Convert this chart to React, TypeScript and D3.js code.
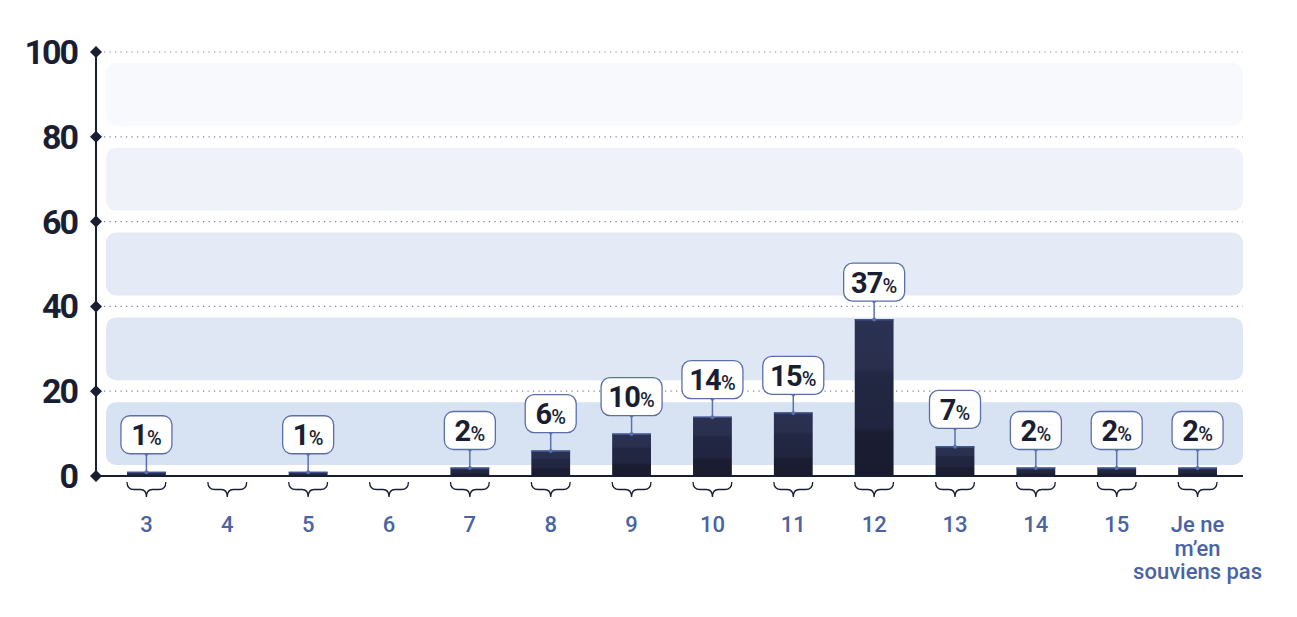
import React, { useRef, useEffect } from 'react';
import { select, scaleBand, scaleLinear } from 'd3';

const categories = ['3', '4', '5', '6', '7', '8', '9', '10', '11', '12', '13', '14', '15', 'Je ne\nm’en\nsouviens pas'];
const values: Array<number | null> = [1, null, 1, null, 2, 6, 10, 14, 15, 37, 7, 2, 2, 2];
const yTicks = [0, 20, 40, 60, 80, 100];
const bandColors = ['#d7e2f3', '#dfe7f5', '#e4ebf6', '#eff2f8', '#f7f9fd'];

const width = 1297;
const height = 617;
const margin = { top: 52, right: 54, bottom: 141, left: 96 };
const navy = '#1a1e33';
const blue = '#4a63a3';
const font = 'Roboto, "Noto Sans", sans-serif';

const App: React.FC = () => {
  const svgRef = useRef<SVGSVGElement>(null);

  useEffect(() => {
    const svg = select(svgRef.current as any);
    svg.selectAll('*').remove();

    const x0 = margin.left + 10;
    const x1 = width - margin.right;
    const xScale = scaleBand()
      .domain(categories)
      .range([x0, x1 - 5])
      .paddingInner(0.52)
      .paddingOuter(0.26);
    const yScale = scaleLinear()
      .domain([0, 100])
      .range([height - margin.bottom, margin.top]);
    const bw = xScale.bandwidth();
    const cx = (c: string) => (xScale(c) as number) + bw / 2;

    // gradient for the bars
    const defs = svg.append('defs');
    const grad = defs
      .append('linearGradient')
      .attr('id', 'barGrad')
      .attr('x1', 0)
      .attr('y1', 1)
      .attr('x2', 0)
      .attr('y2', 0);
    [
      [0, '#191c2f'],
      [0.28, '#1b1e33'],
      [0.31, '#21253f'],
      [0.65, '#222743'],
      [0.69, '#292f4d'],
      [1, '#2b3151'],
    ].forEach(([o, c]) => grad.append('stop').attr('offset', o).attr('stop-color', c));

    // background bands between grid lines
    svg
      .selectAll('.band')
      .data(yTicks.slice(0, -1))
      .join('rect')
      .attr('class', 'band')
      .attr('x', x0)
      .attr('width', x1 - x0)
      .attr('y', t => yScale(t + 20) + 11)
      .attr('height', t => yScale(t) - yScale(t + 20) - 22)
      .attr('rx', 10)
      .style('fill', (_, i) => bandColors[i]);

    // dotted grid
    svg
      .selectAll('.grid')
      .data(yTicks.slice(1))
      .join('line')
      .attr('class', 'grid')
      .attr('x1', margin.left + 8)
      .attr('x2', x1)
      .attr('y1', t => yScale(t))
      .attr('y2', t => yScale(t))
      .style('stroke', '#7d84a0')
      .style('stroke-width', 1.2)
      .style('stroke-dasharray', '1.2 4.3');

    const rows = categories
      .map((c, i) => ({ c, v: values[i] }))
      .filter(d => d.v !== null) as Array<{ c: string; v: number }>;

    // bars
    svg
      .selectAll('.bar')
      .data(rows)
      .join('rect')
      .attr('class', 'bar')
      .attr('x', d => xScale(d.c) as number)
      .attr('width', bw)
      .attr('y', d => yScale(d.v))
      .attr('height', d => yScale(0) - yScale(d.v))
      .style('fill', 'url(#barGrad)');
    svg
      .selectAll('.bartop')
      .data(rows)
      .join('line')
      .attr('class', 'bartop')
      .attr('x1', d => xScale(d.c) as number)
      .attr('x2', d => (xScale(d.c) as number) + bw)
      .attr('y1', d => yScale(d.v) + 0.7)
      .attr('y2', d => yScale(d.v) + 0.7)
      .style('stroke', '#3d5190')
      .style('stroke-width', 1.4);

    // connectors + label boxes
    const boxH = 38;
    const gap = 18;
    const boxW = (v: number) => (v >= 10 ? 61 : 51);
    const label = svg.selectAll('.lab').data(rows).join('g').attr('class', 'lab');
    label
      .append('line')
      .attr('x1', d => cx(d.c))
      .attr('x2', d => cx(d.c))
      .attr('y1', d => yScale(d.v) - gap)
      .attr('y2', d => yScale(d.v))
      .style('stroke', '#5a72ab')
      .style('stroke-width', 1.5);
    label
      .append('circle')
      .attr('cx', d => cx(d.c))
      .attr('cy', d => yScale(d.v) - gap)
      .attr('r', 2)
      .style('fill', '#5a72ab');
    label
      .append('circle')
      .attr('cx', d => cx(d.c))
      .attr('cy', d => yScale(d.v) + 0.5)
      .attr('r', 2)
      .style('fill', '#5a72ab');
    label
      .append('rect')
      .attr('x', d => cx(d.c) - boxW(d.v) / 2)
      .attr('y', d => yScale(d.v) - gap - boxH)
      .attr('width', d => boxW(d.v))
      .attr('height', boxH)
      .attr('rx', 9)
      .style('fill', '#fff')
      .style('stroke', '#5a6fa8')
      .style('stroke-width', 1.3);
    const txt = label
      .append('text')
      .attr('x', d => cx(d.c))
      .attr('y', d => yScale(d.v) - gap - boxH / 2 + 10.5)
      .attr('text-anchor', 'middle')
      .style('font-family', font)
      .style('font-weight', 700)
      .style('fill', navy);
    txt
      .append('tspan')
      .style('font-size', '29px')
      .style('letter-spacing', '-0.8px')
      .text(d => `${d.v}`);
    txt.append('tspan').style('font-size', '20px').style('font-weight', 500).text('%');

    // y axis
    svg
      .append('line')
      .attr('x1', margin.left)
      .attr('x2', margin.left)
      .attr('y1', yScale(100))
      .attr('y2', yScale(0))
      .style('stroke', navy)
      .style('stroke-width', 2);
    svg
      .append('line')
      .attr('x1', margin.left)
      .attr('x2', x1)
      .attr('y1', yScale(0))
      .attr('y2', yScale(0))
      .style('stroke', navy)
      .style('stroke-width', 2);
    svg
      .selectAll('.diamond')
      .data(yTicks)
      .join('path')
      .attr('class', 'diamond')
      .attr('d', t => {
        const y = yScale(t);
        const m = margin.left;
        return `M${m - 6},${y} L${m},${y - 6} L${m + 6},${y} L${m},${y + 6} Z`;
      })
      .style('fill', navy);
    svg
      .selectAll('.ylab')
      .data(yTicks)
      .join('text')
      .attr('class', 'ylab')
      .attr('x', margin.left - 19)
      .attr('y', t => yScale(t) + 12)
      .attr('text-anchor', 'end')
      .style('font-family', font)
      .style('font-weight', 700)
      .style('font-size', '34px')
      .style('letter-spacing', '-2px')
      .style('fill', navy)
      .text(t => `${t}`);

    // braces under the categories
    const bt = yScale(0) + 6;
    svg
      .selectAll('.brace')
      .data(categories)
      .join('path')
      .attr('class', 'brace')
      .attr('d', c => {
        const m = cx(c);
        const h = bw / 2;
        const mid = bt + 7.5;
        return (
          `M${m - h},${bt} Q${m - h},${mid} ${m - h + 7},${mid} ` +
          `L${m - 6},${mid} Q${m},${mid} ${m},${bt + 15} ` +
          `Q${m},${mid} ${m + 6},${mid} L${m + h - 7},${mid} Q${m + h},${mid} ${m + h},${bt}`
        );
      })
      .style('fill', 'none')
      .style('stroke', navy)
      .style('stroke-width', 1.3);

    // category labels
    const xl = svg
      .selectAll('.xlab')
      .data(categories)
      .join('text')
      .attr('class', 'xlab')
      .attr('text-anchor', 'middle')
      .style('font-family', font)
      .style('font-weight', 500)
      .style('font-size', '22px')
      .style('fill', blue);
    xl.selectAll('tspan')
      .data(c => c.split('\n').map(line => ({ c, line })))
      .join('tspan')
      .attr('x', d => cx(d.c))
      .attr('y', (_, i) => yScale(0) + 56 + i * 23.5)
      .text(d => d.line);
  }, []);

  return (
    <svg
      ref={svgRef}
      width={width}
      height={height}
      style={{ position: 'absolute', left: 0, top: 0, background: '#fff' }}
    ></svg>
  );
};

export default App;
